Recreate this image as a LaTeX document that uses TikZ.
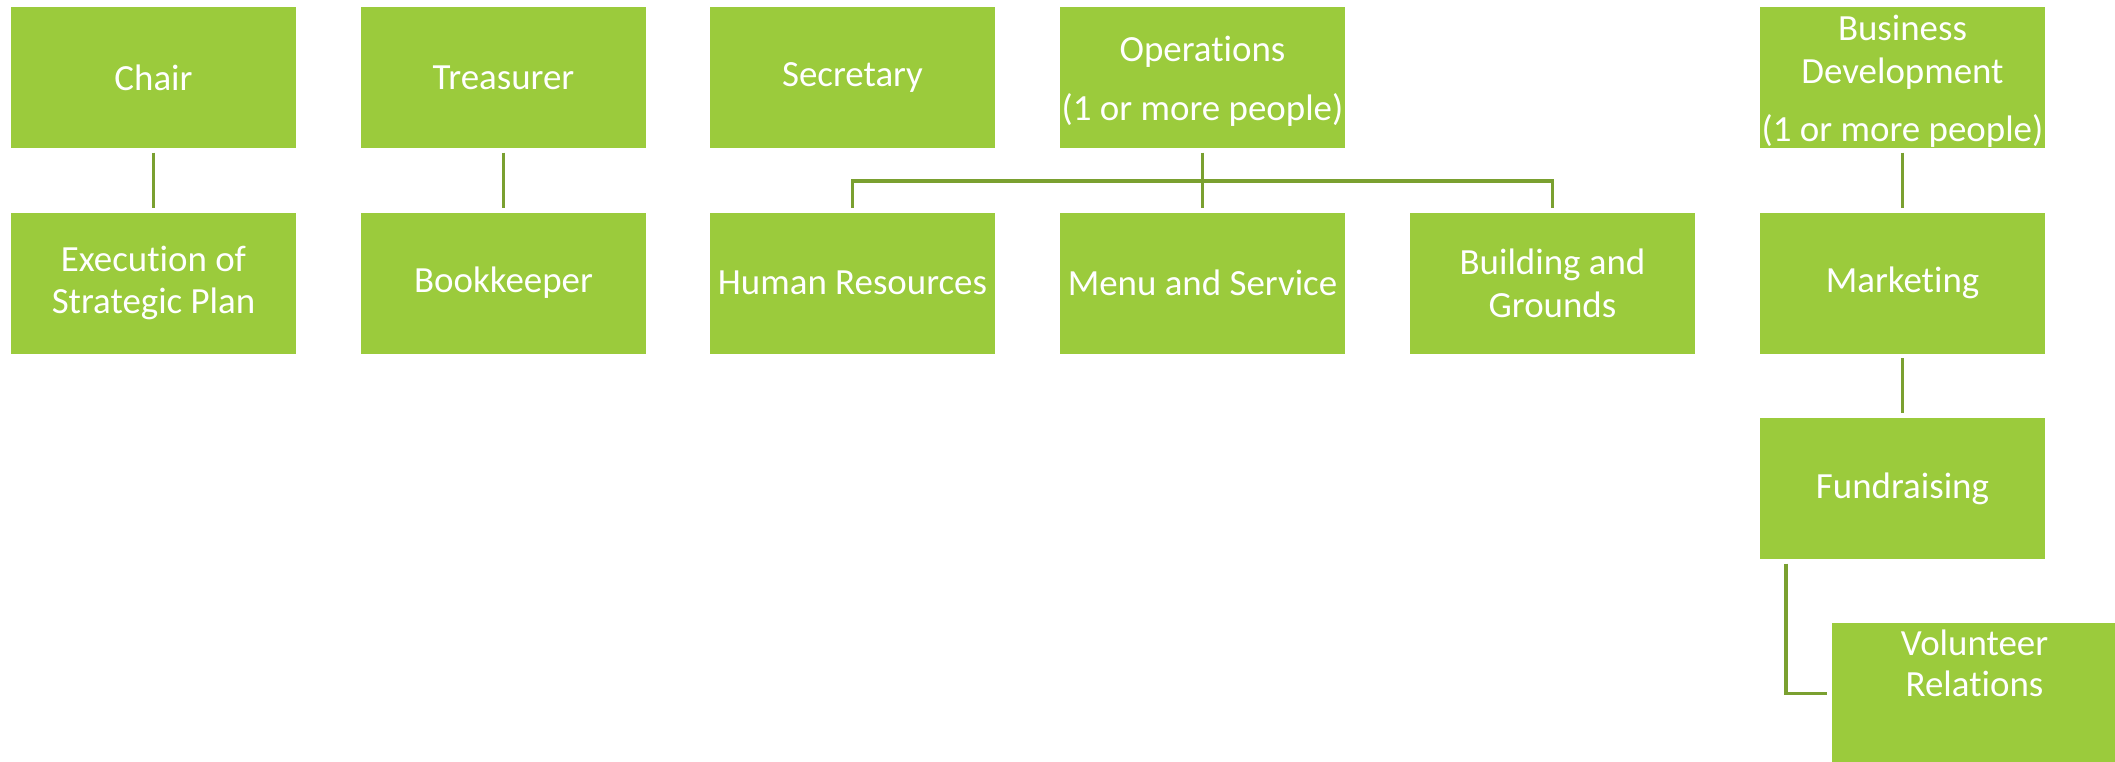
\documentclass[tikz,border=0pt]{standalone}
\usepackage{fontspec}
\setmainfont{Carlito}[Ligatures=NoCommon]
\usetikzlibrary{positioning}
\definecolor{orggreen}{RGB}{155,203,60}
\definecolor{orgline}{RGB}{122,160,48}
\newcommand{\topstrut}{\rule{0pt}{0.33cm}}

\begin{document}
\begin{tikzpicture}[
    orgbox/.style={rectangle, fill=orggreen, text=white, align=center, inner sep=0pt,
      minimum width=2.85cm, minimum height=1.41cm, font=\fontsize{10.5}{12.2}\selectfont},
    link/.style={draw=orgline, line width=1pt, shorten <=0.04cm, shorten >=0.04cm}
  ]
    \clip (0,0) rectangle (21.15,-7.61);
    \fill[white] (0,0) rectangle (21.15,-7.61);

    % Board row
    \node[orgbox] (chair) at (1.535,-0.775) {Chair};
    \node[orgbox] (treasurer) at (5.035,-0.775) {Treasurer};
    \node[orgbox] (secretary) at (8.525,-0.775) {Secretary};
    \node[orgbox] (operations) at (12.025,-0.775) {\topstrut Operations\\[4.5pt](1 or more people)};
    \node[orgbox] (busdev) at (19.025,-0.775) {\topstrut Business\\Development\\[4.5pt](1 or more people)};

    % Second row
    \node[orgbox] (plan) at (1.535,-2.83) {Execution of\\Strategic Plan};
    \node[orgbox] (bookkeeper) at (5.035,-2.83) {Bookkeeper};
    \node[orgbox] (hr) at (8.525,-2.83) {Human Resources};
    \node[orgbox] (menu) at (12.025,-2.83) {Menu and Service};
    \node[orgbox] (building) at (15.525,-2.83) {Building and\\Grounds};
    \node[orgbox] (marketing) at (19.025,-2.83) {Marketing};

    % Business development branch
    \node[orgbox] (fundraising) at (19.025,-4.885) {Fundraising};
    \node[orgbox, label={[text=white, align=center, inner sep=0pt, anchor=north, yshift=-0.07cm,
      font=\fontsize{10.5}{11.6}\selectfont]north:{Volunteer\\Relations}}] (volunteer) at (19.745,-6.935) {};

    % Connectors
    \coordinate (bus) at (12.025,-1.81);
    \draw[link] (chair) -- (plan);
    \draw[link] (treasurer) -- (bookkeeper);
    \draw[link] (operations) -- (menu);
    \draw[link] (hr.north) |- (bus) -| (building.north);
    \draw[link] (busdev) -- (marketing);
    \draw[link] (marketing) -- (fundraising);
    \draw[link] ([xshift=0.267cm]fundraising.south west) |- (volunteer.west);
\end{tikzpicture}
\end{document}
